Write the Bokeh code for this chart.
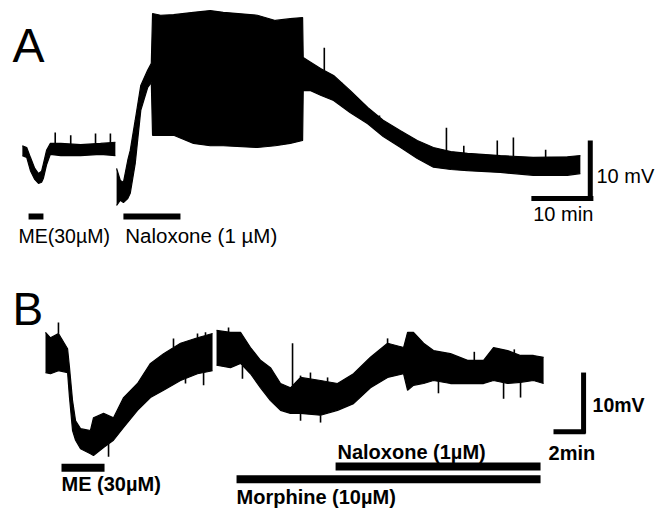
import numpy as np
from bokeh.plotting import figure
from bokeh.models import Range1d, ColumnDataSource
from bokeh.layouts import column
from bokeh.embed import file_html
from bokeh.resources import INLINE
from bokeh.core.properties import value

FONT = "Liberation Sans"

# ---------------- Panel A data (time in min, membrane potential in mV, relative) ----------------
a1_t = [0.3, 1.0, 1.6, 2.3, 2.9, 3.4, 3.7, 4.2, 4.8, 6.5, 9.7, 12.9, 15.3]
a1_hi = [10.3, 10.0, 8.3, 6.4, 5.5, 5.9, 7.2, 9.5, 10.7, 10.7, 10.5, 10.7, 10.9]
a1_lo = [8.6, 8.3, 6.0, 4.5, 3.8, 4.0, 4.7, 7.0, 8.8, 8.6, 8.6, 8.8, 8.6]
a1_spike_t = [5.6, 8.1, 12.1, 14.5]
a1_spike_v = [12.6, 12.1, 12.4, 12.4]

a2_t = [15.5, 16.1, 16.6, 17.3, 17.7, 18.5, 19.4, 20.5, 21.1, 21.3, 22.6, 24.7, 27.9, 30.6,
        32.7, 38.2, 41.1, 43.5, 45.5, 45.6, 46.8, 48.4, 50.5, 53.2, 56.0, 58.5, 61.3, 64.0,
        66.6, 69.4, 72.1, 77.4, 82.7, 88.2, 90.3]
a2_hi = [6.4, 4.3, 4.0, 7.8, 9.5, 14.7, 20.7, 23.3, 24.5, 33.1, 32.8, 32.9, 33.3, 33.6,
         33.3, 32.8, 31.9, 32.2, 32.4, 25.5, 24.7, 23.6, 22.4, 19.8, 16.9, 14.7, 12.9, 11.2,
         10.0, 9.3, 9.0, 8.6, 8.3, 8.4, 8.6]
a2_lo = [0.0, 0.9, 0.5, 1.2, 2.1, 7.2, 16.4, 20.3, 21.2, 12.1, 12.1, 12.1, 10.7, 10.3,
         10.3, 10.0, 10.3, 10.7, 11.2, 19.8, 19.8, 19.0, 18.1, 16.0, 14.1, 11.9, 10.0, 8.1,
         6.6, 6.2, 6.0, 5.7, 5.2, 5.2, 5.5]
a2_spike_t = [49.0, 51.8, 57.9, 68.7, 71.5, 76.9, 79.5, 84.7]
a2_spike_v = [27.2, 21.2, 15.5, 13.4, 10.3, 11.2, 11.7, 9.6]

a_drug_names = ["ME(30\u00b5M)", "Naloxone (1 \u00b5M)"]
a_drug_start = [1.3, 16.6]
a_drug_end = [3.7, 25.8]

a_scale_min = 10.0
a_scale_mv = 10.0

# ---------------- Panel B data ----------------
b1_t = [0.0, 0.31, 0.81, 1.38, 1.5, 1.69, 1.88, 2.19, 2.81, 3.0, 3.63, 4.25, 4.88, 5.75,
        6.56, 7.38, 8.44, 9.5, 10.44]
b1_hi = [20.2, 19.3, 20.0, 17.5, 14.4, 9.0, 5.7, 4.4, 4.1, 6.2, 6.9, 6.2, 9.5, 11.8,
         15.1, 16.7, 18.4, 19.3, 20.0]
b1_lo = [13.6, 13.4, 13.9, 13.6, 9.5, 4.1, 2.5, 1.1, 0.3, 0.0, 1.3, 2.5, 4.6, 7.4,
         9.5, 10.7, 12.3, 13.4, 13.9]
b1_up_t = [0.81, 8.0, 9.5, 10.0]
b1_up_v = [21.8, 19.2, 20.0, 20.2]
b1_dn_t = [3.94, 8.75, 9.88]
b1_dn_v = [-0.2, 11.8, 11.5]

b2_t = [10.69, 11.56, 12.19, 12.81, 13.44, 14.06, 14.69, 15.31, 15.94, 17.19, 18.25, 19.25,
        20.31, 21.38, 22.38, 22.63, 23.0, 23.63, 24.25, 25.31, 26.38, 27.38, 28.0, 28.88,
        29.69, 30.5, 31.13]
b2_hi = [20.5, 20.2, 20.2, 17.7, 15.6, 14.4, 11.8, 11.1, 12.8, 12.3, 11.8, 13.4,
         16.1, 18.4, 17.7, 20.2, 20.2, 18.4, 17.2, 16.7, 15.6, 15.6, 17.7, 17.2,
         16.4, 16.4, 16.1]
b2_lo = [14.8, 14.4, 15.1, 13.4, 11.1, 9.0, 7.4, 6.9, 6.9, 6.6, 7.4, 8.5,
         11.1, 12.8, 13.4, 10.7, 11.5, 11.8, 12.3, 11.8, 11.8, 11.8, 12.3, 11.8,
         12.0, 12.3, 11.8]
b2_up_t = [11.44, 15.44, 15.94, 16.56, 17.63, 21.38, 22.19, 26.8, 29.3]
b2_up_v = [21.0, 18.4, 13.1, 13.6, 12.8, 19.2, 17.9, 17.0, 17.4]
b2_dn_t = [12.31, 15.94, 17.19, 24.56, 28.63, 29.69]
b2_dn_v = [12.6, 5.7, 5.4, 10.2, 9.3, 9.5]

b_drug_names = ["ME (30\u00b5M)", "Naloxone (1\u00b5M)", "Morphine (10\u00b5M)"]
b_drug_start = [1.0, 18.13, 11.94]
b_drug_end = [3.69, 30.94, 30.94]

b_scale_min = 2.0
b_scale_mv = 10.0


def make_fig(h, xr, yr):
    p = figure(width=655, height=h, output_backend="svg", toolbar_location=None,
               x_axis_type=None, y_axis_type=None, min_border=0,
               x_range=Range1d(*xr), y_range=Range1d(*yr))
    p.grid.visible = False
    p.outline_line_color = None
    p.background_fill_color = "white"
    p.border_fill_color = "white"
    return p


def trace(p, t, hi, lo):
    p.varea(x=t, y1=lo, y2=hi, fill_color="black")
    p.line(t, hi, line_color="black", line_width=1.2)
    p.line(t, lo, line_color="black", line_width=1.2)


def spikes(p, t, v, env_t, env):
    base = np.interp(t, env_t, env)
    p.segment(x0=t, y0=base, x1=t, y1=v, line_color="black", line_width=1.6)


def label(p, x, y, txt, size, bold=False):
    src = ColumnDataSource(dict(x=[x], y=[y], t=[txt]))
    p.text(x="x", y="y", text="t", source=src, text_font=value(FONT),
           text_font_size=value(size), text_color="black",
           text_font_style="bold" if bold else "normal",
           text_baseline="middle", text_align="left")


# ---------------- Panel A ----------------
pA = make_fig(250, (-3.226, 102.42), (-7.76, 35.34))
trace(pA, a1_t, a1_hi, a1_lo)
spikes(pA, a1_spike_t, a1_spike_v, a1_t, a1_hi)
trace(pA, a2_t, a2_hi, a2_lo)
spikes(pA, a2_spike_t, a2_spike_v, a2_t, a2_hi)

bar_v_a = -1.9
pA.segment(x0=a_drug_start, y0=[bar_v_a] * 2, x1=a_drug_end, y1=[bar_v_a] * 2,
           line_color="black", line_width=6, line_cap="butt")
label(pA, -0.32, -5.26, a_drug_names[0], "19.5px")
label(pA, 16.9, -5.26, a_drug_names[1], "20.5px")

# scale bar A
sa_t1, sa_v0 = 92.4, 1.2
pA.segment(x0=[sa_t1 - a_scale_min], y0=[sa_v0], x1=[sa_t1], y1=[sa_v0],
           line_color="black", line_width=5, line_cap="butt")
pA.segment(x0=[sa_t1 - 0.5], y0=[sa_v0 - 0.4], x1=[sa_t1 - 0.5], y1=[sa_v0 + a_scale_mv],
           line_color="black", line_width=5, line_cap="butt")
label(pA, 92.9, 5.17, "10 mV", "20px")
label(pA, 82.7, -1.47, "10 min", "20px")
label(pA, -1.29, 27.5, "A", "48px")

# ---------------- Panel B ----------------
pB = make_fig(258, (-2.8125, 38.125), (-8.69, 33.61))
trace(pB, b1_t, b1_hi, b1_lo)
spikes(pB, b1_up_t, b1_up_v, b1_t, b1_hi)
spikes(pB, b1_dn_t, b1_dn_v, b1_t, b1_lo)
trace(pB, b2_t, b2_hi, b2_lo)
spikes(pB, b2_up_t, b2_up_v, b2_t, b2_hi)
spikes(pB, b2_dn_t, b2_dn_v, b2_t, b2_lo)

bar_v_b = [-2.0, -1.8, -3.9]
pB.segment(x0=b_drug_start, y0=bar_v_b, x1=b_drug_end, y1=bar_v_b,
           line_color="black", line_width=8, line_cap="butt")
label(pB, 1.0, -4.67, b_drug_names[0], "20px", bold=True)
label(pB, 18.25, 0.57, b_drug_names[1], "20px", bold=True)
label(pB, 11.94, -6.8, b_drug_names[2], "20px", bold=True)

# scale bar B
sb_t1, sb_v0 = 33.75, 3.9
pB.segment(x0=[sb_t1 - b_scale_min], y0=[sb_v0], x1=[sb_t1], y1=[sb_v0],
           line_color="black", line_width=5, line_cap="butt")
pB.segment(x0=[sb_t1 - 0.12], y0=[sb_v0 - 0.3], x1=[sb_t1 - 0.12], y1=[sb_v0 - 0.3 + b_scale_mv],
           line_color="black", line_width=5, line_cap="butt")
label(pB, 34.19, 8.2, "10mV", "19.5px", bold=True)
label(pB, 31.44, 0.41, "2min", "20px", bold=True)
label(pB, -2.06, 24.0, "B", "46px")

layout = column(pA, pB, spacing=0)
open("out.html", "w").write(file_html(layout, INLINE))
